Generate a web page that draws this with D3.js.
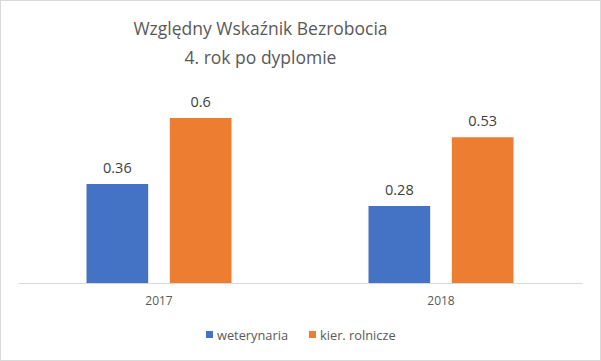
<!DOCTYPE html>
<html>
<head>
<meta charset="utf-8">
<script src="https://cdn.jsdelivr.net/npm/d3@7"></script>
<style>
  body { margin: 0; background: #fff; }
  svg { display: block; font-family: "Open Sans", "Liberation Sans", sans-serif; }
</style>
</head>
<body>
<div id="chart"></div>
<script>
const titleLines = ['Względny Wskaźnik Bezrobocia', '4. rok po dyplomie'];
const years = ['2017', '2018'];
const seriesNames = ['weterynaria', 'kier. rolnicze'];
const weterynaria = [0.36, 0.28];
const rolnicze = [0.6, 0.53];
const colors = ['#4472c4', '#ed7d31'];

const width = 601;
const height = 361;
const textColor = '#595959';

const svg = d3.select('#chart')
  .append('svg')
  .attr('width', width)
  .attr('height', height);

// chart border
svg.append('rect')
  .attr('x', 0.5).attr('y', 0.5)
  .attr('width', width - 1).attr('height', height - 1)
  .attr('fill', '#fff')
  .attr('stroke', '#d9d9d9');

// title
svg.append('g')
  .selectAll('text')
  .data(titleLines)
  .join('text')
  .attr('x', 260.5)
  .attr('y', (d, i) => 35 + i * 29)
  .attr('text-anchor', 'middle')
  .attr('fill', textColor)
  .style('font-size', '17.5px')
  .text(d => d);

const baseline = 283;
const x = d3.scaleBand().domain(years).range([18, 582]).paddingInner(0).paddingOuter(0);
const x1 = d3.scaleBand().domain(seriesNames).range([0, 145]).paddingInner(0.26);
const y = d3.scaleLinear().domain([0, 1]).range([baseline, baseline - 275]);

const rows = years.map((yr, i) => ({ year: yr, values: [weterynaria[i], rolnicze[i]] }));

const groups = svg.append('g')
  .selectAll('g')
  .data(rows)
  .join('g')
  .attr('transform', d => `translate(${x(d.year) + (x.bandwidth() - 145) / 2},0)`);

groups.selectAll('rect')
  .data(d => d.values.map((v, j) => ({ v, name: seriesNames[j], j })))
  .join('rect')
  .attr('x', d => x1(d.name))
  .attr('y', d => y(d.v))
  .attr('width', x1.bandwidth())
  .attr('height', d => baseline - y(d.v))
  .attr('fill', d => colors[d.j]);

groups.selectAll('text')
  .data(d => d.values.map((v, j) => ({ v, name: seriesNames[j] })))
  .join('text')
  .attr('x', d => x1(d.name) + x1.bandwidth() / 2)
  .attr('y', d => y(d.v) - 11)
  .attr('text-anchor', 'middle')
  .attr('fill', '#404040')
  .style('font-size', '14.5px')
  .text(d => d.v);

// x axis
const xAxis = svg.append('g')
  .attr('transform', `translate(0,${baseline})`)
  .call(d3.axisBottom(x).tickSize(0).tickPadding(13));
xAxis.select('.domain').attr('stroke', '#d9d9d9');
xAxis.selectAll('text')
  .attr('fill', textColor)
  .style('font-size', '12px')
  .style('font-family', '"Open Sans", "Liberation Sans", sans-serif');

// legend
const legendX = [206, 309];
const legend = svg.append('g')
  .selectAll('g')
  .data(seriesNames)
  .join('g')
  .attr('transform', (d, i) => `translate(${legendX[i]},335)`);
legend.append('rect')
  .attr('x', 0).attr('y', -4)
  .attr('width', 7).attr('height', 7)
  .attr('fill', (d, i) => colors[i]);
legend.append('text')
  .attr('x', 11)
  .attr('y', 4.5)
  .attr('fill', textColor)
  .style('font-size', '12.8px')
  .text(d => d);
</script>
</body>
</html>
